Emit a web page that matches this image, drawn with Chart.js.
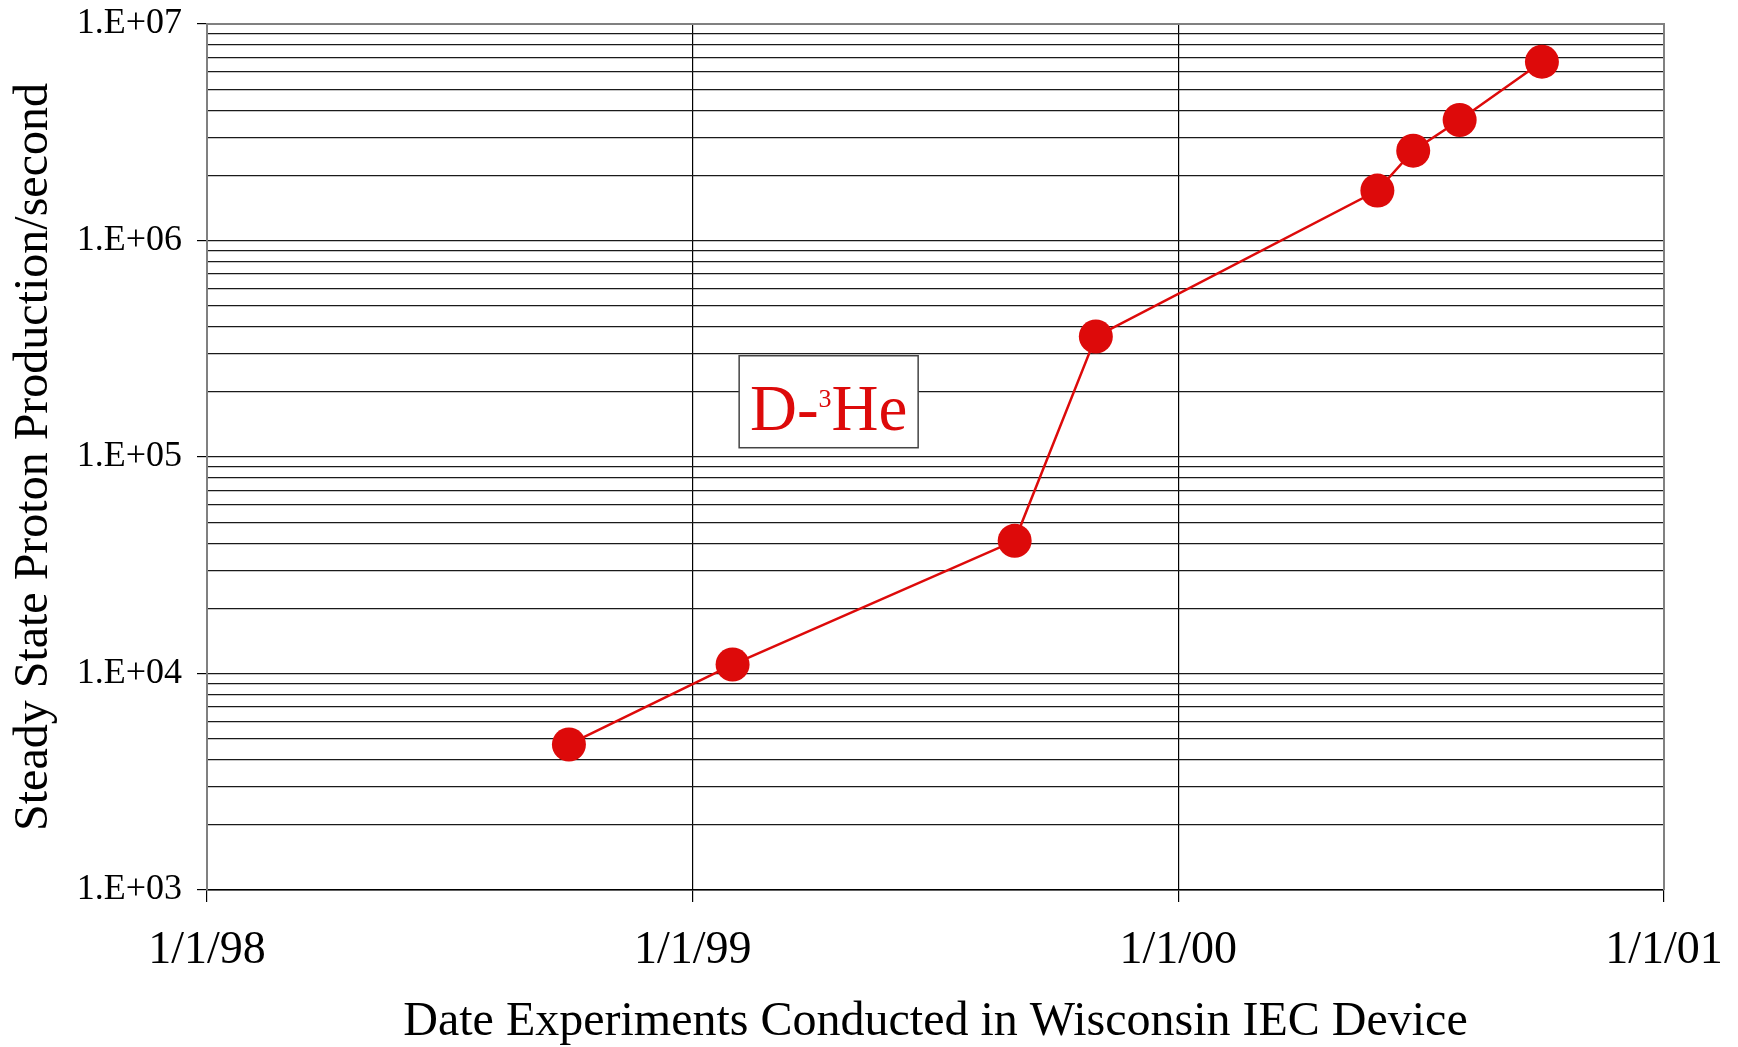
<!DOCTYPE html>
<html>
<head>
<meta charset="utf-8">
<title>D-3He proton production</title>
<script src="https://cdn.jsdelivr.net/npm/chart.js"></script>
<style>
  html, body { margin: 0; padding: 0; background: #fff; }
  canvas { display: block; }
</style>
</head>
<body>
<canvas id="chart" width="1738" height="1047"></canvas>
<script>
const runDates = ['1998-09-30', '1999-01-31', '1999-08-31', '1999-10-31', '2000-05-30', '2000-06-26', '2000-07-31', '2000-10-01'];
const protonRates = [4.7e3, 1.1e4, 4.1e4, 3.6e5, 1.7e6, 2.6e6, 3.6e6, 6.7e6];

const yearTicks = [1998, 1999, 2000, 2001];
const decadeTicks = [1e3, 1e4, 1e5, 1e6, 1e7];

const xTitle = 'Date Experiments Conducted in Wisconsin IEC Device';
const yTitle = 'Steady State Proton Production/second';
const labelParts = ['D-', '3', 'He'];   // "3" is a superscript
const labelAt = { x: 1999.28, y: 1.8e5 }; // centre of the label box, data units

const RED = '#dd0a0a';
const FONT = "'Liberation Serif', 'Times New Roman', serif";

// date string -> fractional year
const toYear = (s) => {
  const d = new Date(s + 'T00:00:00Z');
  const y = d.getUTCFullYear();
  const start = Date.UTC(y, 0, 1), end = Date.UTC(y + 1, 0, 1);
  return y + (d.getTime() - start) / (end - start);
};

const points = runDates.map((s, i) => ({ x: toYear(s), y: protonRates[i] }));

// 1..9 x 10^n gridlines between the decades
const logTicks = [];
decadeTicks.forEach((d, i) => {
  if (i === decadeTicks.length - 1) { logTicks.push(d); return; }
  for (let k = 1; k <= 9; k++) logTicks.push(k * d);
});

const isDecade = (v) => decadeTicks.includes(v);

const framePlugin = {
  id: 'frame',
  beforeDatasetsDraw(chart) {
    const { ctx, chartArea: a } = chart;
    ctx.save();
    ctx.strokeStyle = '#808080';
    ctx.lineWidth = 2;
    ctx.beginPath();
    ctx.moveTo(a.left, a.top);
    ctx.lineTo(a.right, a.top);
    ctx.lineTo(a.right, a.bottom);
    ctx.stroke();
    ctx.restore();
  }
};

const labelPlugin = {
  id: 'seriesLabel',
  afterDraw(chart) {
    const { ctx, scales } = chart;
    const cx = scales.x.getPixelForValue(labelAt.x);
    const cy = scales.y.getPixelForValue(labelAt.y);
    const w = 179, h = 92;
    ctx.save();
    ctx.fillStyle = '#fff';
    ctx.fillRect(cx - w / 2, cy - h / 2, w, h);
    ctx.strokeStyle = '#444';
    ctx.lineWidth = 1.5;
    ctx.strokeRect(cx - w / 2, cy - h / 2, w, h);

    const big = '65px ' + FONT, small = '26px ' + FONT;
    ctx.font = big;
    const w1 = ctx.measureText(labelParts[0]).width;
    const w3 = ctx.measureText(labelParts[2]).width;
    ctx.font = small;
    const w2 = ctx.measureText(labelParts[1]).width;
    let x = cx - (w1 + w2 + w3) / 2;
    const base = cy + 28;
    ctx.fillStyle = RED;
    ctx.textBaseline = 'alphabetic';
    ctx.textAlign = 'left';
    ctx.font = big;
    ctx.fillText(labelParts[0], x, base);
    x += w1;
    ctx.font = small;
    ctx.fillText(labelParts[1], x, base - 23);
    x += w2;
    ctx.font = big;
    ctx.fillText(labelParts[2], x, base);
    ctx.restore();
  }
};

new Chart(document.getElementById('chart'), {
  type: 'line',
  data: {
    datasets: [{
      label: 'D-3He',
      data: points,
      borderColor: RED,
      borderWidth: 2.5,
      backgroundColor: RED,
      pointRadius: 17,
      pointHoverRadius: 17,
      pointBorderWidth: 0,
      tension: 0,
      fill: false
    }]
  },
  options: {
    responsive: false,
    animation: false,
    devicePixelRatio: 1,
    layout: { padding: { left: 0, right: 74, top: 24, bottom: 0 } },
    plugins: { legend: { display: false }, tooltip: { enabled: false } },
    scales: {
      x: {
        type: 'linear',
        min: yearTicks[0],
        max: yearTicks[yearTicks.length - 1],
        afterBuildTicks: (scale) => { scale.ticks = yearTicks.map((v) => ({ value: v })); },
        afterFit: (scale) => { scale.height = 157; scale.paddingLeft = 0; scale.paddingRight = 0; },
        grid: { color: '#000', lineWidth: 1.2, tickLength: 12, tickColor: '#000' },
        border: { color: '#000', width: 1.5 },
        ticks: {
          autoSkip: false,
          maxRotation: 0,
          padding: 21,
          color: '#000',
          font: { family: FONT, size: 46 },
          callback: (v) => '1/1/' + String(v % 100).padStart(2, '0')
        },
        title: {
          display: true,
          text: xTitle,
          color: '#000',
          font: { family: FONT, size: 48, lineHeight: 1.0 },
          padding: { top: 0, bottom: 1 }
        }
      },
      y: {
        type: 'logarithmic',
        min: decadeTicks[0],
        max: decadeTicks[decadeTicks.length - 1],
        afterBuildTicks: (scale) => { scale.ticks = logTicks.map((v) => ({ value: v })); },
        afterFit: (scale) => { scale.width = 207; scale.paddingTop = 0; scale.paddingBottom = 0; },
        grid: {
          color: '#1a1a1a',
          lineWidth: 1.2,
          tickLength: 10,
          tickColor: (c) => (c.tick && isDecade(c.tick.value) ? '#000' : 'rgba(0,0,0,0)')
        },
        border: { color: '#808080', width: 2 },
        ticks: {
          autoSkip: false,
          padding: 15,
          color: '#000',
          font: { family: FONT, size: 36 },
          callback: (v) => isDecade(v) ? '1.E+' + String(Math.round(Math.log10(v))).padStart(2, '0') : ''
        },
        title: {
          display: true,
          text: yTitle,
          color: '#000',
          font: { family: FONT, size: 48 },
          padding: { top: 6, bottom: 0 }
        }
      }
    }
  },
  plugins: [framePlugin, labelPlugin]
});
</script>
</body>
</html>
